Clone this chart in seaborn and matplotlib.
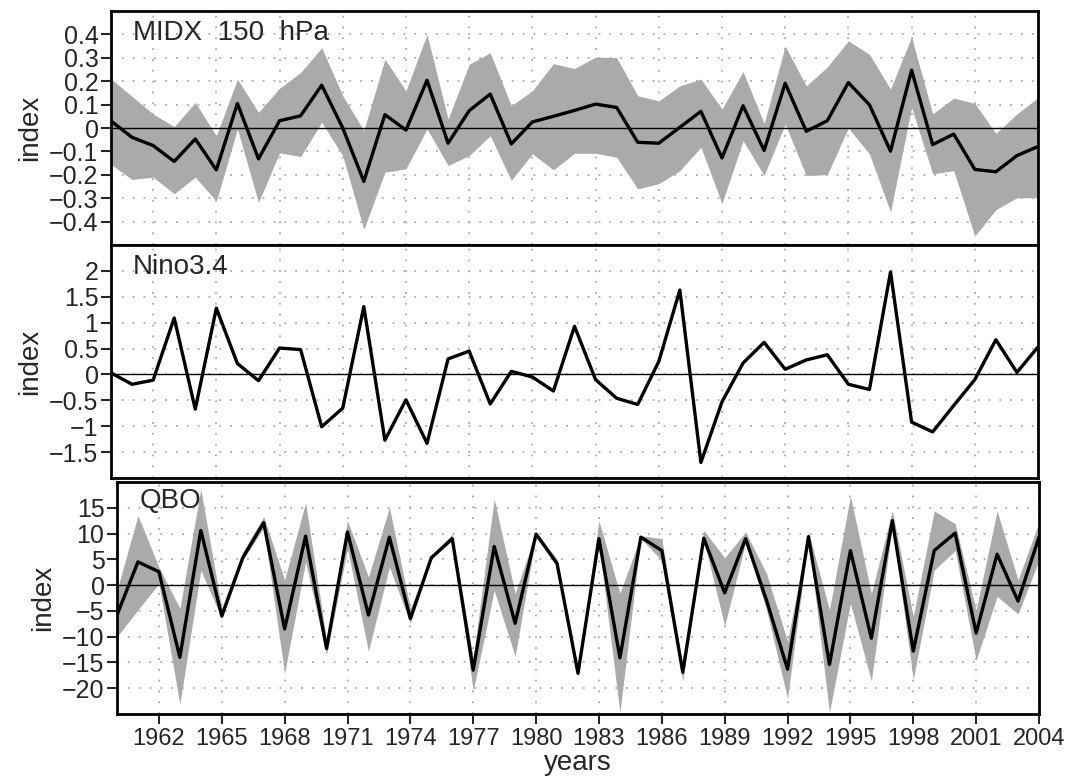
import matplotlib
matplotlib.use("Agg")
import matplotlib.pyplot as plt
import numpy as np
import pandas as pd
import seaborn as sns

years = list(range(1960, 2005))

midx_line = [0.03, -0.04, -0.075, -0.143, -0.047, -0.179, 0.105, -0.132, 0.031, 0.052,
             0.183, 0.0, -0.228, 0.057, -0.009, 0.204, -0.065, 0.074, 0.145, -0.068,
             0.026, 0.05, 0.075, 0.102, 0.088, -0.061, -0.065, 0.003, 0.071, -0.128,
             0.095, -0.096, 0.191, -0.014, 0.031, 0.194, 0.099, -0.099, 0.247, -0.071,
             -0.026, -0.177, -0.187, -0.118, -0.079]
midx_upper = [0.21, 0.135, 0.06, 0.006, 0.109, -0.033, 0.209, 0.067, 0.17, 0.237,
              0.343, 0.138, -0.011, 0.294, 0.159, 0.4, 0.038, 0.272, 0.322, 0.095,
              0.159, 0.275, 0.254, 0.303, 0.301, 0.138, 0.116, 0.18, 0.209, 0.081,
              0.241, 0.02, 0.35, 0.18, 0.261, 0.372, 0.315, 0.166, 0.389, 0.06,
              0.128, 0.105, -0.023, 0.06, 0.13]
midx_lower = [-0.156, -0.22, -0.21, -0.281, -0.21, -0.313, -0.004, -0.319, -0.106, -0.122,
              0.024, -0.118, -0.434, -0.189, -0.174, -0.004, -0.16, -0.118, -0.033, -0.224,
              -0.11, -0.179, -0.108, -0.108, -0.125, -0.26, -0.238, -0.182, -0.082, -0.323,
              -0.054, -0.203, 0.017, -0.203, -0.199, 0.0, -0.111, -0.359, 0.088, -0.196,
              -0.182, -0.462, -0.349, -0.298, -0.298]

nino34 = [0.03, -0.19, -0.11, 1.09, -0.67, 1.28, 0.21, -0.12, 0.51, 0.48,
          -1.01, -0.65, 1.31, -1.27, -0.49, -1.33, 0.30, 0.45, -0.57, 0.06,
          -0.05, -0.32, 0.93, -0.10, -0.46, -0.58, 0.25, 1.63, -1.70, -0.53,
          0.22, 0.62, 0.10, 0.28, 0.38, -0.19, -0.29, 1.98, -0.92, -1.11,
          -0.60, -0.10, 0.67, 0.04, 0.53]

qbo_line = [-5.8, 4.5, 2.6, -14.0, 10.6, -6.0, 5.3, 12.1, -8.5, 9.5,
            -12.3, 10.3, -5.8, 9.3, -6.5, 5.3, 9.0, -16.5, 7.5, -7.4,
            9.9, 4.2, -17.1, 9.0, -14.1, 9.3, 6.7, -16.9, 9.1, -1.5,
            9.0, -3.0, -16.3, 9.4, -15.4, 6.7, -10.3, 12.5, -12.8, 6.7,
            10.1, -9.3, 6.0, -3.1, 9.3]
qbo_upper = [-1.0, 13.5, 3.5, -4.5, 18.6, -4.5, 6.4, 13.3, 1.0, 16.0,
             -10.6, 12.5, 1.6, 15.1, -4.5, 5.8, 9.9, -14.1, 16.7, -1.6,
             10.3, 5.0, -16.0, 12.5, -1.6, 9.6, 9.0, -16.0, 10.6, 5.3,
             10.3, 2.2, -10.9, 10.3, -4.8, 17.3, -1.6, 14.4, -6.1, 14.4,
             11.9, -4.8, 14.4, 1.0, 12.2]
qbo_lower = [-10.0, -4.8, 0.3, -23.1, 2.9, -6.5, 4.8, 11.2, -17.1, 4.5,
             -13.5, 7.1, -12.8, 3.5, -7.4, 5.1, 8.7, -20.5, -1.0, -13.8,
             9.6, 3.5, -17.6, 8.0, -24.7, 9.0, 4.8, -18.6, 8.7, -7.9,
             8.3, -4.8, -22.0, 9.0, -24.7, -3.5, -18.6, 11.5, -18.3, 2.9,
             6.7, -14.6, -2.2, -5.6, 4.8]

xticks = list(range(1962, 2005, 3))

sns.set_style("ticks")
plt.rcParams["font.family"] = ["Liberation Sans", "DejaVu Sans"]
plt.rcParams["axes.unicode_minus"] = True

YFS = 18
XFS = 17
LFS = 20
GREY = "#aaaaaa"

fig = plt.figure(figsize=(10.72, 7.78), dpi=100)

panels = [
    dict(rect=[111 / 1072, 1 - 245 / 778, 927 / 1072, 234 / 778], name="MIDX  150  hPa",
         line=midx_line, lo=midx_lower, hi=midx_upper, ylim=(-0.5, 0.5), tpos=(0.024, 0.96),
         yticks=[0.4, 0.3, 0.2, 0.1, 0, -0.1, -0.2, -0.3, -0.4]),
    dict(rect=[111 / 1072, 1 - 478 / 778, 927 / 1072, 233 / 778], name="Nino3.4",
         line=nino34, lo=None, hi=None, ylim=(-2, 2.5), tpos=(0.024, 0.96),
         yticks=[2, 1.5, 1, 0.5, 0, -0.5, -1, -1.5]),
    dict(rect=[117 / 1072, 1 - 714 / 778, 922 / 1072, 232 / 778], name="QBO",
         line=qbo_line, lo=qbo_lower, hi=qbo_upper, ylim=(-25, 20), tpos=(0.024, 0.975),
         yticks=[15, 10, 5, 0, -5, -10, -15, -20]),
]

for i, p in enumerate(panels):
    ax = fig.add_axes(p["rect"])
    df = pd.DataFrame({"year": years, "value": p["line"]})
    if p["lo"] is not None:
        ax.fill_between(years, p["lo"], p["hi"], color=GREY, linewidth=0, zorder=1)
    for t in xticks:
        ax.axvline(t, color="#aaaaaa", linestyle=(0, (1, 5)), linewidth=1.3, zorder=0.5)
    for t in p["yticks"]:
        ax.axhline(t, color="#aaaaaa", linestyle=(0, (1, 5)), linewidth=1.3, zorder=0.5)
    ax.axhline(0, color="black", linewidth=1.0, zorder=2)
    sns.lineplot(data=df, x="year", y="value", color="black", linewidth=2.4, ax=ax, zorder=3)
    ax.set_xlim(1960, 2004)
    ax.set_ylim(*p["ylim"])
    ax.set_yticks(p["yticks"])
    ax.set_yticklabels([f"{v:g}".replace("-", "\u2212") for v in p["yticks"]], fontsize=YFS)
    ax.set_xticks(xticks)
    ax.set_ylabel("index", fontsize=LFS, labelpad=4)
    ax.tick_params(axis="y", direction="out", length=7, width=1.5, pad=2)
    if i < 2:
        ax.tick_params(axis="x", length=0, labelbottom=False)
        ax.set_xlabel("")
    else:
        ax.set_xticklabels([str(t) for t in xticks], fontsize=XFS)
        ax.tick_params(axis="x", direction="out", length=7, width=1.5, pad=3)
        ax.set_xlabel("years", fontsize=LFS, labelpad=0)
    for s in ax.spines.values():
        s.set_linewidth(2)
        s.set_color("black")
    ax.text(p["tpos"][0], p["tpos"][1], p["name"], transform=ax.transAxes, fontsize=LFS,
            ha="left", va="top", zorder=4)

fig.savefig("out.png", dpi=100)
